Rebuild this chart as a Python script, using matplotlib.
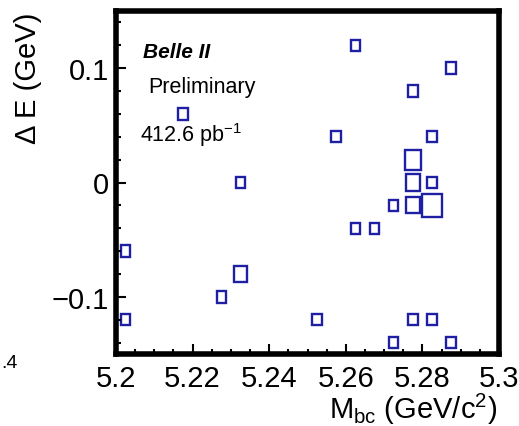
import numpy as np
import matplotlib.pyplot as plt
from matplotlib.patches import Rectangle
from matplotlib.ticker import MultipleLocator, FuncFormatter

plt.rcParams['font.family'] = ['Liberation Sans', 'DejaVu Sans']
plt.rcParams['mathtext.fontset'] = 'custom'
plt.rcParams['mathtext.rm'] = 'Liberation Sans'
plt.rcParams['mathtext.it'] = 'Liberation Sans:italic'

# Filled bins of the Mbc vs Delta E histogram (bin centres and entries)
mbc = [5.2025, 5.2025, 5.2175, 5.2325, 5.2325, 5.2275,
       5.2625, 5.2575, 5.2875, 5.2775, 5.2825, 5.2775,
       5.2775, 5.2825, 5.2725, 5.2775, 5.2825, 5.2625,
       5.2675, 5.2525, 5.2775, 5.2825, 5.2725, 5.2875]
de = [-0.06, -0.12, 0.06, 0.0, -0.08, -0.10,
      0.12, 0.04, 0.10, 0.08, 0.04, 0.02,
      0.0, 0.0, -0.02, -0.02, -0.02, -0.04,
      -0.04, -0.12, -0.12, -0.12, -0.14, -0.14]
counts = [1, 1, 1, 1, 2, 1,
          1, 1, 1, 1, 1, 3,
          2, 1, 1, 2, 4, 1,
          1, 1, 1, 1, 1, 1]

bin_w = 0.005
bin_h = 0.02
box_color = '#1f1fa3'

fig = plt.figure(figsize=(5.19, 4.27), dpi=100)
ax = fig.add_axes([116 / 519, 1 - 355 / 427, 383 / 519, 343 / 427])

# box side scales with sqrt(content / max content)
cmax = max(counts)
for x, y, c in zip(mbc, de, counts):
    f = np.sqrt(c / cmax)
    w = bin_w * f
    h = bin_h * f
    ax.add_patch(Rectangle((x - w / 2, y - h / 2), w, h, fill=False,
                           edgecolor=box_color, linewidth=1.7))

ax.set_xlim(5.2, 5.3)
ax.set_ylim(-0.15, 0.15)

for s in ax.spines.values():
    s.set_linewidth(4)

ax.xaxis.set_major_locator(MultipleLocator(0.02))
ax.xaxis.set_minor_locator(MultipleLocator(0.005))
ax.yaxis.set_major_locator(MultipleLocator(0.1))
ax.yaxis.set_minor_locator(MultipleLocator(0.02))
fmt = FuncFormatter(lambda v, p: '0' if abs(v) < 1e-9 else ('%g' % round(v, 3)).replace('-', '\u2212'))
ax.xaxis.set_major_formatter(fmt)
ax.yaxis.set_major_formatter(fmt)

ax.tick_params(which='both', direction='in', top=False, right=False, width=1.5)
ax.tick_params(which='major', length=7, labelsize=21)
ax.tick_params(which='minor', length=3.5)
ax.tick_params(axis='y', pad=5)
ax.tick_params(axis='x', pad=7)

ax.text(143 / 519, 1 - 58 / 427, 'Belle II', transform=fig.transFigure,
        fontsize=15, fontweight='bold', fontstyle='italic', va='baseline')
ax.text(148 / 519, 1 - 93 / 427, 'Preliminary', transform=fig.transFigure,
        fontsize=15.5, va='baseline')
ax.text(140 / 519, 1 - 142 / 427, '412.6 pb$^{-1}$', transform=fig.transFigure,
        fontsize=15.5, va='baseline')

fig.text(28 / 519, 1 - 13 / 427, '\u0394 E (GeV)', rotation=90,
         ha='center', va='top', fontsize=21)
fig.text(497 / 519, 1 - 419 / 427, r'M$_{\rm bc}$ (GeV/c$^{2}$)',
         ha='right', va='baseline', fontsize=21)

# fragment of the neighbouring panel's tick label
fig.text(1 / 519, 1 - 368 / 427, '.4', ha='left', va='baseline', fontsize=14)

fig.savefig('out.png', dpi=100)
